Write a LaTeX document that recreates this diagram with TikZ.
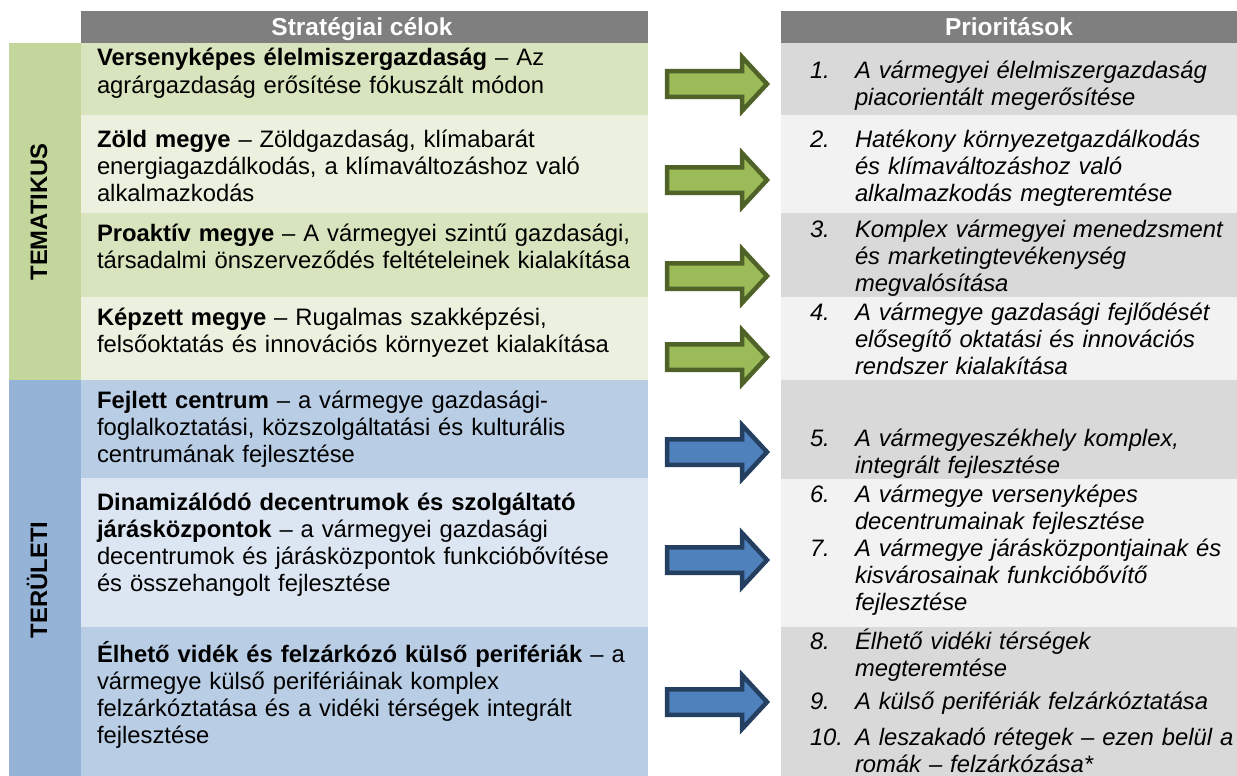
\documentclass[tikz,border=0pt]{standalone}
\usepackage{fontspec}
\setmainfont{Liberation Sans}
\definecolor{hdr}{HTML}{7F7F7F}
\definecolor{sidegreen}{HTML}{C3D69B}
\definecolor{sideblue}{HTML}{95B3D7}
\definecolor{gdark}{HTML}{D7E4BD}
\definecolor{glight}{HTML}{EBF1DE}
\definecolor{bdark}{HTML}{B9CDE5}
\definecolor{blight}{HTML}{DCE6F2}
\definecolor{graydark}{HTML}{D9D9D9}
\definecolor{graylight}{HTML}{F2F2F2}
\definecolor{gborder}{HTML}{4F6228}
\definecolor{gfill}{HTML}{9BBB59}
\definecolor{bborder}{HTML}{243F60}
\definecolor{bfill}{HTML}{4F81BD}
\tikzset{
  blockarrow/.pic={
    \path[pic actions, line width=4.5pt, line join=miter]
      (0,-12.75) -- (75,-12.75) -- (75,-27) -- (100,0) -- (75,27) -- (75,12.75) -- (0,12.75) -- cycle;
  },
  garrow/.style={draw=gborder, fill=gfill},
  barrow/.style={draw=bborder, fill=bfill},
}
\begin{document}
\begin{tikzpicture}[x=1pt,y=-1pt,
  every node/.style={inner sep=0pt, outer sep=0pt},
  goal/.style={font=\fontsize{23.8}{27.3}\selectfont, anchor=base west, text width=560pt, align=left},
  prio/.style={font=\fontsize{23.8}{27.3}\selectfont\itshape, anchor=base west, text width=380pt, align=left},
  num/.style={font=\fontsize{23.8}{27.3}\selectfont\itshape, anchor=base west},
  headtext/.style={font=\fontsize{24.5}{28}\selectfont\bfseries, text=white, anchor=base},
  side/.style={font=\fontsize{23.8}{27}\selectfont\bfseries, rotate=90, anchor=base},
]
\useasboundingbox (0,0) rectangle (1237,776);

% side bars
\fill[sidegreen] (9,43) rectangle (81,380);
\fill[sideblue] (9,380) rectangle (81,776);
% headers
\fill[hdr] (81,11) rectangle (648,43);
\fill[hdr] (781,11) rectangle (1237,43);
% left rows
\fill[gdark]  (81,43)  rectangle (648,115);
\fill[glight] (81,115) rectangle (648,213);
\fill[gdark]  (81,213) rectangle (648,297);
\fill[glight] (81,297) rectangle (648,380);
\fill[bdark]  (81,380) rectangle (648,478);
\fill[blight] (81,478) rectangle (648,627);
\fill[bdark]  (81,627) rectangle (648,776);
% right rows
\fill[graydark]  (781,43)  rectangle (1237,115);
\fill[graylight] (781,115) rectangle (1237,213);
\fill[graydark]  (781,213) rectangle (1237,297);
\fill[graylight] (781,297) rectangle (1237,380);
\fill[graydark]  (781,380) rectangle (1237,479);
\fill[graylight] (781,479) rectangle (1237,627);
\fill[graydark]  (781,627) rectangle (1237,776);

% header texts
\node[headtext] (h1) at (362,35.5) {Stratégiai célok};
\node[headtext] (h2) at (1009,35.5) {Prioritások};

% side labels
\node[side] (tem) at (47,212) {TEMATIKUS};
\node[side] (ter) at (47,580) {TERÜLETI};

% goals
\node[goal] (g1) at (97,66) {\textbf{Versenyképes élelmiszergazdaság} – Az\\agrárgazdaság erősítése fókuszált módon};
\node[goal] (g2) at (97,147) {\textbf{Zöld megye} – Zöldgazdaság, klímabarát\\energiagazdálkodás, a klímaváltozáshoz való\\alkalmazkodás};
\node[goal] (g3) at (97,241) {\textbf{Proaktív megye} – A vármegyei szintű gazdasági,\\társadalmi önszerveződés feltételeinek kialakítása};
\node[goal] (g4) at (97,325) {\textbf{Képzett megye} – Rugalmas szakképzési,\\felsőoktatás és innovációs környezet kialakítása};
\node[goal] (g5) at (97,408) {\textbf{Fejlett centrum} – a vármegye gazdasági-\\foglalkoztatási, közszolgáltatási és kulturális\\centrumának fejlesztése};
\node[goal] (g6) at (97,510) {\textbf{Dinamizálódó decentrumok és szolgáltató}\\\textbf{járásközpontok} – a vármegyei gazdasági\\decentrumok és járásközpontok funkcióbővítése\\és összehangolt fejlesztése};
\node[goal] (g7) at (97,662) {\textbf{Élhető vidék és felzárkózó külső perifériák} – a\\vármegye külső perifériáinak komplex\\felzárkóztatása és a vidéki térségek integrált\\fejlesztése};

% priorities
\node[num] (n1) at (810,78) {1.};
\node[prio] (p1) at (855,78) {A vármegyei élelmiszergazdaság\\piacorientált megerősítése};
\node[num] (n2) at (810,147) {2.};
\node[prio] (p2) at (855,147) {Hatékony környezetgazdálkodás\\és klímaváltozáshoz való\\alkalmazkodás megteremtése};
\node[num] (n3) at (810,237) {3.};
\node[prio] (p3) at (855,237) {Komplex vármegyei menedzsment\\és marketingtevékenység\\megvalósítása};
\node[num] (n4) at (810,320) {4.};
\node[prio] (p4) at (855,320) {A vármegye gazdasági fejlődését\\elősegítő oktatási és innovációs\\rendszer kialakítása};
\node[num] (n5) at (810,446) {5.};
\node[prio] (p5) at (855,446) {A vármegyeszékhely komplex,\\integrált fejlesztése};
\node[num] (n6) at (810,502) {6.};
\node[prio] (p6) at (855,502) {A vármegye versenyképes\\decentrumainak fejlesztése};
\node[num] (n7) at (810,556) {7.};
\node[prio] (p7) at (855,556) {A vármegye járásközpontjainak és\\kisvárosainak funkcióbővítő\\fejlesztése};
\node[num] (n8) at (810,649) {8.};
\node[prio] (p8) at (855,649) {Élhető vidéki térségek\\megteremtése};
\node[num] (n9) at (810,709) {9.};
\node[prio] (p9) at (855,709) {A külső perifériák felzárkóztatása};
\node[num] (n10) at (810,745) {10.};
\node[prio] (p10) at (855,745) {A leszakadó rétegek – ezen belül a\\romák – felzárkózása*};

% arrows
\pic[garrow] (a1) at (667,84)  {blockarrow};
\pic[garrow] (a2) at (667,180) {blockarrow};
\pic[garrow] (a3) at (667,276) {blockarrow};
\pic[garrow] (a4) at (667,357) {blockarrow};
\pic[barrow] (a5) at (667,452) {blockarrow};
\pic[barrow] (a6) at (667,560) {blockarrow};
\pic[barrow] (a7) at (667,702) {blockarrow};
\end{tikzpicture}
\end{document}
